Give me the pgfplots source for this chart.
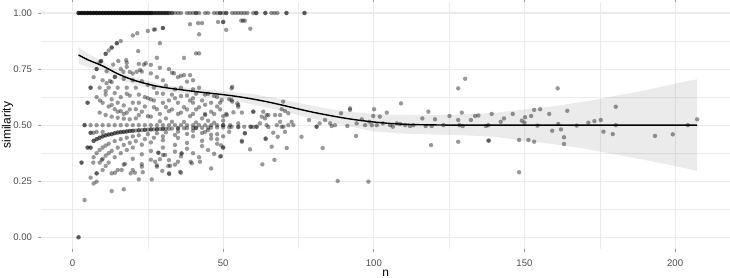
\documentclass[border=0pt]{standalone}
\usepackage{fontspec}
\setmainfont{Liberation Sans}
\usepackage{pgfplots}
\pgfplotsset{compat=1.18}
\definecolor{gridc}{HTML}{EBEBEB}
\definecolor{tickc}{HTML}{4D4D4D}
\definecolor{tickmk}{HTML}{999999}
\pgfplotsset{pts/.style={only marks, mark=*, draw=none, mark size=2.2pt, mark options={draw=none, draw opacity=0, fill=black, fill opacity=0.4, line width=0pt}}}
\begin{document}
\begin{tikzpicture}
\begin{axis}[
 name=ax, at={(0,0)}, anchor=south west,
 scale only axis, width=688.5pt, height=246.7pt,
 xmin=-10.29, xmax=218.2, ymin=-0.05, ymax=1.05,
 axis line style={draw=none},
 xtick={0,50,100,150,200}, xticklabels={0,50,100,150,200},
 ytick={0,0.25,0.5,0.75,1}, yticklabels={0.00,0.25,0.50,0.75,1.00},
 minor xtick={25,75,125,175}, minor ytick={0.125,0.375,0.625,0.875},
 grid=both,
 major grid style={line width=1.07pt, draw=gridc},
 minor grid style={line width=0.53pt, draw=gridc},
 tick align=outside, major tick length=3.5pt, minor tick length=0pt,
 major tick style={draw=tickmk, line width=1pt},
 ticklabel style={font=\fontsize{9.6}{11}\selectfont, text=tickc, inner sep=0pt},
 xticklabel style={anchor=base, yshift=-14.5pt},
 yticklabel style={anchor=east, xshift=-5.8pt},
 xlabel={n}, ylabel={similarity},
 every axis x label/.style={at={(axis description cs:0.5,0)}, anchor=base, yshift=-27.5pt, font=\fontsize{12}{14}\selectfont},
 every axis y label/.style={at={(axis description cs:-0.0447,0.5)}, rotate=90, anchor=base, font=\fontsize{12}{14}\selectfont},
]
% top row y = 1
\addplot[pts] coordinates {
(2,1)(3,1)(4,1)(5,1)(6,1)(7,1)(8,1)(9,1)(10,1)(11,1)(12,1)(13,1)(14,1)(15,1)(16,1)(17,1)(18,1)(19,1)(20,1)(21,1)(22,1)(23,1)(24,1)(25,1)(26,1)(27,1)(28,1)(29,1)(30,1)(31,1)(32,1)(33,1)
(2,1)(3,1)(4,1)(5,1)(6,1)(7,1)(8,1)(9,1)(10,1)(11,1)(12,1)(13,1)(14,1)(15,1)(16,1)(17,1)(18,1)(19,1)(20,1)(21,1)(22,1)(23,1)(24,1)(25,1)(26,1)(27,1)(28,1)(29,1)(30,1)(31,1)(32,1)(33,1)
(2,1)(3,1)(4,1)(5,1)(6,1)(7,1)(8,1)(9,1)(10,1)(11,1)(12,1)(13,1)(14,1)(15,1)(16,1)(17,1)(18,1)(19,1)(20,1)(21,1)(22,1)(23,1)(24,1)(25,1)(26,1)
(2.5,1)(3.5,1)(4.5,1)(5.5,1)(6.5,1)(7.5,1)(8.5,1)(9.5,1)(10.5,1)(11.5,1)(12.5,1)(13.5,1)(14.5,1)(15.5,1)(16.5,1)(17.5,1)(18.5,1)(19.5,1)(20.5,1)(21.5,1)(22.5,1)(23.5,1)(24.5,1)(25.5,1)(26.5,1)(27.5,1)(28.5,1)(29.5,1)(30.5,1)(31.5,1)
(34,1)(35,1)(36,1)(38,1)(39,1)(40,1)(41,1)(41,1)(42,1)(44,1)(45,1)(47,1)(48,1)(49,1)(49,1)(50,1)(51,1)(51,1)(53,1)(54,1)(55,1)(56,1)(57,1)(58,1)(60,1)
(61,1)(61,1)(64,1)(64,1)(66,1)(67,1)(68,1)(71,1)(71,1)(77,1)(77,1)
};
% upper arcs
\addplot[pts] coordinates {
(5,0.60)(5,0.60)(6,0.667)(6,0.667)(7,0.714)(8,0.75)(8,0.75)(9,0.78)(9.5,0.786)(9.5,0.786)(11,0.818)(11,0.818)(12,0.833)(13,0.846)(13,0.846)(14.7,0.865)(14.7,0.865)(16,0.875)(20,0.90)(21.5,0.91)(25,0.92)(27,0.926)(27.4,0.927)(30,0.933)(30,0.933)
(11.3,0.74)(13.5,0.77)(15.2,0.786)(17.8,0.79)(21.8,0.83)(29,0.865)(28,0.80)(24.3,0.776)(23.7,0.77)(18,0.76)(37,0.80)(41,0.82)(42,0.82)(42,0.905)(39,0.95)(41.7,0.955)(43,0.955)(48.3,0.96)(50,0.96)(50,0.96)(51,0.925)(56,0.966)(56.6,0.966)(57.2,0.966)(59,0.93)
(9.1,0.61)(11,0.652)(11.3,0.687)(12.4,0.697)(14.1,0.716)(16.9,0.738)(20,0.73)(21.3,0.738)(22.4,0.746)(29,0.756)(33,0.734)(33.7,0.731)(36,0.72)(37,0.723)(39,0.723)(38,0.694)
(6,0.5)(8,0.625)(9,0.667)(10,0.70)
(8,0.5)(9,0.556)(10,0.6)(11,0.636)(12,0.667)(13,0.692)(14,0.714)(16,0.75)(18,0.778)
(10,0.5)(11,0.545)(12,0.583)(13,0.615)(14,0.643)(15,0.667)(17,0.706)(19,0.737)(22,0.773)
(12,0.5)(13,0.538)(14,0.571)(15,0.6)(16,0.625)(18,0.667)(20,0.70)(23,0.739)(26,0.769)
(14,0.5)(15,0.533)(16,0.5625)(17,0.588)(19,0.632)(21,0.667)(23,0.696)(26,0.731)
(16,0.5)(17,0.529)(18,0.556)(20,0.6)(22,0.636)(25,0.68)(28,0.714)(32,0.75)
(19,0.526)(21,0.571)(24,0.625)(27,0.667)(30,0.70)
(20,0.5)(22,0.545)(24,0.583)(26,0.615)(28,0.643)(31,0.677)(35,0.714)
(24,0.5)(26,0.538)(28,0.571)(30,0.6)(33,0.636)(36,0.667)(40,0.70)
(29,0.517)(32,0.5625)(35,0.60)(38,0.632)(42,0.667)
(33,0.515)(36,0.556)(40,0.60)(44,0.636)
(37,0.514)(40,0.55)(44,0.591)(48,0.625)
(41,0.512)(44,0.545)(48,0.583)(52,0.615)
(47,0.511)(50,0.54)(55,0.582)
(31,0.58)(34,0.62)(38,0.57)(43,0.61)(46,0.56)(49,0.60)(45,0.64)(40,0.66)
(40,0.62)(42,0.58)(44,0.55)(46,0.60)(47,0.63)(49,0.57)(50,0.52)(51,0.55)
(49.5,0.612)(53,0.605)(55,0.59)(51.2,0.545)(53.4,0.557)(53,0.671)
(13,0.59)(15,0.56)(17,0.55)(19,0.57)(21,0.53)(23,0.56)(25,0.54)(27,0.58)(29,0.55)(31,0.53)(33,0.57)(35,0.55)(37,0.58)(39,0.54)(41,0.57)(43,0.53)(45,0.52)(47,0.55)
(18,0.64)(22,0.60)(25,0.62)(27,0.61)(30,0.64)(32,0.61)(34,0.66)(36,0.63)(39,0.61)(41,0.64)
};
% lower region
\addplot[pts] coordinates {
(2,0)(2,0)(3,0.333)(3,0.333)(4,0.50)(4,0.50)(5,0.40)(5,0.40)(6,0.40)(6,0.40)(6,0.466)(6,0.466)(7,0.43)(7,0.43)(7,0.466)(8,0.4375)(8,0.4375)(8,0.47)(9,0.444)(9,0.444)(10,0.45)(10,0.45)(10,0.47)(11,0.4545)(12,0.458)(12,0.458)(13,0.46)(14,0.464)(14,0.464)(15,0.467)(16,0.469)(16,0.469)(17,0.47)(18,0.472)(18,0.472)(19,0.474)(20,0.475)(20,0.475)(22,0.477)(22,0.477)(24,0.479)(24,0.479)(26,0.481)(26,0.481)(28,0.482)(28,0.482)(30,0.483)(30,0.483)(32,0.484)(35,0.486)(35,0.486)(38,0.487)(41,0.488)(41,0.488)(45,0.489)(48,0.49)(50,0.49)(55,0.491)(60,0.492)(65,0.492)(70,0.493)
(11,0.4545)(13,0.46)(15,0.467)(17,0.47)(19,0.474)(21,0.476)(23,0.478)(25,0.48)(27,0.481)(29,0.483)(31,0.484)(33,0.485)(37,0.486)(40,0.488)(43,0.488)(46,0.489)(52,0.49)
(18,0.5)(22,0.5)(26,0.5)(28,0.5)(30,0.5)(32,0.5)(34,0.5)(36,0.5)(38,0.5)(40,0.5)(42,0.5)(44,0.5)(46,0.5)(48,0.5)(50,0.5)(50,0.5)(52.3,0.5)(55,0.508)
(7,0.357)(8,0.375)(9,0.389)(10,0.40)(11,0.409)(12,0.417)(14,0.429)(16,0.4375)(18,0.444)(20,0.45)(22,0.4545)(25,0.46)(28,0.464)(31,0.468)(35,0.471)(40,0.475)(45,0.478)
(9,0.333)(10,0.35)(11,0.364)(12,0.375)(13,0.385)(15,0.40)(17,0.412)(19,0.421)(21,0.429)(24,0.4375)(27,0.444)(30,0.45)(34,0.456)(38,0.461)(43,0.465)
(10,0.30)(11,0.318)(12,0.333)(14,0.357)(16,0.375)(18,0.389)(20,0.40)(23,0.413)(26,0.423)(30,0.433)(35,0.443)(40,0.45)(46,0.457)
(15,0.30)(17,0.324)(20,0.35)(23,0.37)(26,0.385)(30,0.40)(34,0.412)(38,0.421)(43,0.43)(48,0.4375)
(20,0.30)(23,0.326)(26,0.346)(30,0.367)(34,0.382)(38,0.395)(43,0.407)(48,0.417)
(28,0.321)(32,0.344)(36,0.361)(40,0.375)(45,0.389)(50,0.40)
(34,0.324)(42,0.357)(47,0.372)
(6.9,0.333)(8,0.285)(8,0.285)(6,0.266)(7,0.24)(8,0.248)(4,0.166)(13,0.206)(17,0.214)(22,0.258)(26.3,0.258)(9.7,0.345)(13,0.285)(14.1,0.288)(16.3,0.30)(17.4,0.327)(19.3,0.285)(20.7,0.288)(23.3,0.29)(28,0.315)(29.8,0.296)(32,0.285)(32.4,0.319)(35.7,0.292)(39.6,0.33)(42.3,0.337)(46,0.307)(49,0.36)(36.2,0.374)(36.2,0.374)(28.5,0.377)(28.5,0.377)(29,0.348)(30.7,0.367)(27.4,0.337)(31.8,0.318)(35,0.337)(36,0.288)(32.1,0.282)(39.2,0.337)(23,0.315)
(44,0.47)(46,0.44)(48,0.46)(50,0.45)(52,0.47)(49.3,0.362)(49.3,0.41)(50,0.40)
};
% right region
\addplot[pts] coordinates {
(52.8,0.664)(52.8,0.612)(54.7,0.597)(56.2,0.556)(52.8,0.493)(55,0.493)(56.2,0.426)(57.2,0.464)(57,0.493)(58.9,0.392)(59.1,0.493)(59.1,0.493)(60,0.56)(61.1,0.493)(61.1,0.493)(62.2,0.508)(63,0.325)(63.3,0.56)(64.1,0.441)(63.9,0.53)(65,0.545)(64.4,0.50)(66.1,0.404)(67,0.345)(66.6,0.466)(67.2,0.545)(68.1,0.448)(67.8,0.50)(68.9,0.515)(69.4,0.571)(69.9,0.605)(69.4,0.493)(71.1,0.398)(70.5,0.47)(71.6,0.50)(73.3,0.50)(72.7,0.515)(76,0.448)(78.5,0.523)(81,0.493)(81,0.493)(83,0.398)(82,0.508)(83.8,0.523)(85.5,0.508)(86,0.496)(88,0.251)(87.1,0.50)(89.1,0.553)(91.2,0.496)(92.1,0.575)(92.1,0.568)(94.1,0.452)(94.3,0.508)(96,0.526)(97.1,0.50)(98.2,0.248)(98.5,0.515)(99.3,0.50)(100.1,0.571)(99.8,0.541)(101,0.50)(102,0.538)(103,0.508)(104.3,0.556)(106.3,0.493)(105.4,0.50)(107.6,0.508)(109,0.597)(108.7,0.505)(110.4,0.50)(112,0.496)(113.1,0.50)(116.1,0.53)(117.2,0.496)(118.1,0.56)(119,0.411)(119.2,0.496)(120.3,0.526)(123.1,0.50)(125.1,0.541)(128,0.664)(130.3,0.707)(128,0.523)(128.4,0.50)(128,0.426)(129.2,0.556)(129.5,0.496)(132.2,0.523)(133.6,0.541)(134.7,0.543)(138,0.431)(138,0.50)
(137.2,0.496)(138.2,0.431)(139.1,0.55)(142.1,0.515)(143.2,0.53)(146.1,0.55)(148.2,0.434)(148.2,0.29)(149.1,0.52)(150,0.511)(150.2,0.535)(151.3,0.434)(152.2,0.541)(153.2,0.568)(153.2,0.426)(154.3,0.498)(155.2,0.571)(158.2,0.55)(159.2,0.475)(161,0.664)(161.2,0.505)(162.1,0.481)(163.1,0.446)(163.1,0.416)(164.2,0.564)(167.3,0.498)(171.2,0.511)(173.2,0.518)(175.3,0.523)(176.2,0.471)(179.3,0.46)(180.3,0.582)(180.3,0.50)(193.3,0.452)(199.2,0.459)(204.2,0.50)(207.3,0.526)
(60,0.56)(62.8,0.538)(64.4,0.545)(68.9,0.545)(70.5,0.563)(71.6,0.553)(57.2,0.464)(56.2,0.43)(64.1,0.438)
};
% confidence band
\addplot[draw=none, fill=black!40, fill opacity=0.2] coordinates {
(2,0.848)(5,0.820)(10,0.785)(15,0.745)(20,0.715)(30,0.680)(40,0.665)(50,0.652)(60,0.638)(70,0.614)(80,0.585)(90,0.562)(100,0.550)(110,0.545)(120,0.545)(130,0.548)(140,0.555)(150,0.570)(160,0.585)(170,0.605)(180,0.630)(190,0.655)(200,0.685)(207.3,0.705)
(207.3,0.296)(200,0.318)(190,0.345)(180,0.370)(170,0.395)(160,0.415)(150,0.430)(140,0.448)(130,0.455)(120,0.458)(110,0.462)(100,0.472)(90,0.500)(80,0.527)(70,0.562)(60,0.592)(50,0.618)(40,0.637)(30,0.652)(20,0.683)(15,0.708)(10,0.745)(5,0.760)(2,0.775)
};
% smoother
\addplot[black, line width=1.4pt, smooth] coordinates {
(2,0.813)(5,0.792)(10,0.764)(15,0.729)(20,0.702)(25,0.683)(30,0.669)(40,0.651)(50,0.636)(55,0.627)(60,0.616)(65,0.603)(70,0.588)(75,0.572)(80,0.557)(85,0.544)(90,0.532)(95,0.522)(100,0.514)(105,0.508)(110,0.504)(115,0.502)(120,0.501)(130,0.50)(160,0.50)(207.3,0.50)
};
\end{axis}
\pgfresetboundingbox
\path[use as bounding box] (-41.5pt,-29.5pt) rectangle (688.5pt,248.5pt);
\end{tikzpicture}
\end{document}
